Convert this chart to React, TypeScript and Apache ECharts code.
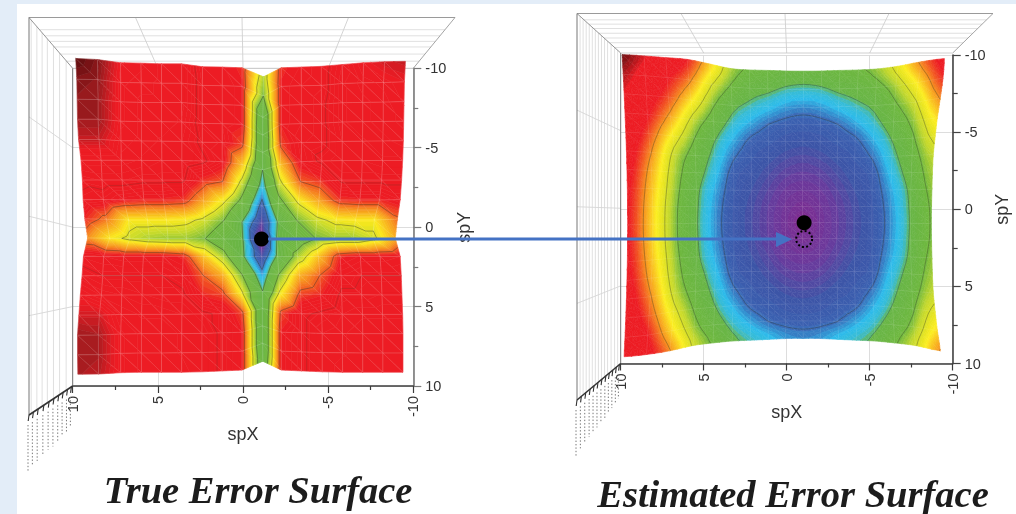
import React, { useEffect, useRef } from "react";
import * as echarts from "echarts";

// ---------- tick labels / axis titles ----------
const xName = "spX";
const yName = "spY";
const titleLeft = "True Error Surface";
const titleRight = "Estimated Error Surface";

// ---------- surface node positions ----------
const trueX = [10, 8.75, 7.5, 6.25, 5, 3.75, 2.5, 1.25, 0, -1.45, -2.5, -3.75, -5, -6.25, -7.5, -8.75, -10];
const estX = [10, 8.75, 7.5, 6.25, 5, 3.75, 2.5, 1.25, 0, -1.25, -2.5, -3.75, -5, -6.25, -7.5, -8.75, -10];
const gridY = [-10, -8.75, -7.5, -6.25, -5, -3.75, -2.5, -1.25, 0, 1.25, 2.5, 3.75, 5, 6.25, 7.5, 8.75, 10];

// ---------- error level at each node (rows: spY -10 .. 10, columns: spX 10 .. -10) ----------
const trueZ = [
  [9.5, 9.2, 8.3, 8.2, 8.0, 8.0, 7.2, 7.1, 6.9, 4.4, 6.9, 7.1, 7.3, 7.8, 8.3, 8.6, 8.7],
  [9.2, 9.1, 8.2, 8.1, 8.0, 8.0, 7.3, 7.2, 7.0, 4.0, 7.0, 7.2, 7.3, 7.9, 8.1, 8.2, 8.4],
  [9.1, 9.0, 8.2, 8.0, 8.0, 8.0, 7.3, 7.2, 7.0, 2.8, 7.0, 7.2, 7.4, 7.9, 8.0, 8.1, 8.3],
  [9.0, 9.0, 8.2, 8.0, 8.0, 7.9, 7.3, 7.2, 7.0, 2.7, 7.0, 7.2, 7.4, 7.9, 8.0, 8.1, 8.2],
  [8.7, 8.7, 8.1, 8.0, 7.9, 7.8, 7.4, 7.3, 6.7, 2.7, 6.7, 7.3, 7.4, 7.8, 7.9, 8.0, 8.1],
  [8.0, 8.0, 8.0, 7.9, 7.8, 7.8, 7.6, 7.2, 5.6, 2.5, 5.6, 7.2, 7.6, 7.8, 7.8, 7.9, 7.9],
  [7.6, 7.7, 7.7, 7.6, 7.6, 7.6, 6.8, 6.5, 4.6, 2.0, 4.6, 6.5, 6.8, 7.6, 7.6, 7.6, 7.6],
  [7.4, 7.3, 7.0, 6.9, 6.9, 6.8, 5.9, 5.0, 3.6, 1.2, 3.6, 5.0, 5.9, 6.8, 6.9, 6.9, 7.2],
  [6.9, 6.3, 5.2, 5.2, 5.2, 5.1, 4.7, 4.0, 2.5, 0.6, 2.5, 4.0, 4.7, 5.1, 5.2, 5.2, 6.4],
  [6.1, 5.2, 4.7, 4.4, 4.3, 4.3, 4.0, 3.3, 2.6, 0.0, 2.6, 3.3, 4.0, 4.3, 4.3, 4.7, 5.8],
  [7.3, 7.2, 7.1, 7.1, 7.1, 6.9, 5.6, 4.4, 2.7, 0.8, 2.7, 4.4, 5.6, 6.9, 7.1, 7.1, 7.2],
  [7.7, 7.5, 7.5, 7.5, 7.5, 7.3, 6.5, 5.8, 4.0, 1.7, 4.0, 5.8, 6.5, 7.3, 7.5, 7.5, 7.5],
  [8.2, 7.9, 7.8, 7.7, 7.6, 7.6, 6.9, 6.7, 5.0, 2.5, 5.0, 6.7, 6.9, 7.6, 7.6, 7.7, 7.7],
  [8.6, 8.6, 8.0, 7.9, 7.9, 7.8, 7.6, 7.4, 6.7, 2.7, 6.7, 7.4, 7.6, 7.8, 7.9, 7.9, 7.9],
  [9.0, 8.9, 8.2, 8.0, 8.0, 7.9, 7.8, 7.4, 7.0, 2.7, 7.0, 7.4, 7.8, 7.9, 8.0, 8.0, 8.0],
  [9.0, 8.9, 8.2, 8.0, 8.0, 7.9, 7.8, 7.4, 7.0, 2.7, 7.0, 7.4, 7.8, 7.9, 8.0, 8.0, 8.0],
  [8.9, 8.8, 8.2, 8.0, 8.0, 8.0, 7.8, 7.4, 7.0, 3.0, 7.0, 7.4, 7.8, 8.0, 8.0, 8.0, 8.0],
];

const estZ = [
  [8.68, 8.2, 7.6, 7.0, 5.4, 3.8, 3.3, 3.15, 2.95, 2.89, 2.95, 3.15, 3.3, 3.66, 4.6, 6.17, 7.27],
  [8.39, 7.8, 7.1, 6.2, 4.35, 3.3, 2.8, 2.64, 2.41, 2.32, 2.41, 2.64, 2.8, 3.13, 3.8, 5.1, 6.86],
  [8.11, 7.4, 6.6, 5.1, 3.55, 2.7, 2.35, 2.07, 1.78, 1.68, 1.78, 2.07, 2.35, 2.65, 3.3, 4.2, 6.05],
  [7.86, 7.1, 5.8, 4.0, 3.0, 2.3, 1.85, 1.5, 1.36, 1.31, 1.36, 1.5, 1.85, 2.3, 2.9, 3.66, 5.2],
  [7.63, 6.6, 4.8, 3.4, 2.55, 1.9, 1.4, 1.26, 1.1, 1.04, 1.1, 1.26, 1.4, 1.9, 2.55, 3.3, 4.55],
  [7.43, 6.08, 4.0, 3.05, 2.3, 1.55, 1.23, 1.04, 0.86, 0.79, 0.86, 1.04, 1.23, 1.55, 2.3, 3.05, 4.0],
  [7.28, 5.69, 3.75, 2.85, 2.07, 1.3, 1.08, 0.85, 0.64, 0.56, 0.64, 0.85, 1.08, 1.3, 2.07, 2.85, 3.75],
  [7.16, 5.45, 3.6, 2.65, 1.85, 1.22, 0.96, 0.7, 0.45, 0.36, 0.45, 0.7, 0.96, 1.22, 1.85, 2.65, 3.6],
  [7.1, 5.28, 3.48, 2.58, 1.74, 1.17, 0.88, 0.59, 0.33, 0.18, 0.33, 0.59, 0.88, 1.17, 1.74, 2.58, 3.48],
  [7.07, 5.23, 3.45, 2.55, 1.7, 1.15, 0.85, 0.56, 0.27, 0, 0.27, 0.56, 0.85, 1.15, 1.7, 2.55, 3.45],
  [7.1, 5.28, 3.48, 2.58, 1.74, 1.17, 0.88, 0.59, 0.33, 0.18, 0.33, 0.59, 0.88, 1.17, 1.74, 2.58, 3.48],
  [7.16, 5.45, 3.6, 2.65, 1.85, 1.22, 0.96, 0.7, 0.45, 0.36, 0.45, 0.7, 0.96, 1.22, 1.85, 2.65, 3.6],
  [7.28, 5.69, 3.75, 2.85, 2.07, 1.3, 1.08, 0.85, 0.64, 0.56, 0.64, 0.85, 1.08, 1.3, 2.07, 2.85, 3.75],
  [7.43, 6.08, 4.0, 3.05, 2.3, 1.55, 1.23, 1.04, 0.86, 0.79, 0.86, 1.04, 1.23, 1.55, 2.3, 3.05, 4.0],
  [7.63, 6.51, 4.55, 3.3, 2.55, 1.9, 1.4, 1.26, 1.1, 1.04, 1.1, 1.26, 1.4, 1.9, 2.55, 3.3, 4.55],
  [7.86, 7.02, 5.2, 3.66, 2.9, 2.3, 1.85, 1.5, 1.36, 1.31, 1.36, 1.5, 1.85, 2.3, 2.9, 3.66, 5.2],
  [8.11, 7.33, 6.05, 4.2, 3.3, 2.65, 2.35, 2.07, 1.78, 1.68, 1.78, 2.07, 2.35, 2.65, 3.3, 4.2, 6.05],
];

// ---------- marked points ----------
const truePoint = [[-1.085, 0.75]];
const estPoint = [[-1.05, 0.88]];
const estTruePoint = [[-1.05, 1.93]];

// ---------- colour maps: level -> colour ----------
const baseStops: [number, string][] = [
  [0, "#7e2b90"], [0.5, "#6a3a9c"], [1, "#3c54a6"], [1.45, "#3b62b2"], [2, "#2cbdec"], [2.3, "#38bbd2"], [2.55, "#68b546"],
];
const trueStops: [number, string][] = [
  ...baseStops, [4.0, "#72b83f"], [4.6, "#c4d92d"], [5.2, "#fbe91c"], [6.1, "#f7941e"], [7, "#ed1c24"], [8.4, "#ed1c24"], [9.0, "#a01c1f"], [9.5, "#5e0c0e"],
];
const estStops: [number, string][] = [
  ...baseStops, [3.4, "#6fb83f"], [3.95, "#c2d82e"], [4.6, "#e8e520"], [5, "#fcee21"], [6, "#f7941e"], [7, "#ed1c24"], [8.1, "#ed1c24"], [8.7, "#6e1012"],
];
const trueLevels = [1.5, 2.5, 4.0, 4.9, 6.5];
const trueFaintLevels = [7.5];
const estLevels = [1.5, 2.5, 3.4, 4.3, 6.0];

type V = { off: [number, number]; ax: number; bx: number; ay: number; by: number; cyz: number };
const trueView: V = { off: [-1, -3.5], ax: 133, bx: 3.5, ay: 131, by: 2.9, cyz: -0.7 };
const estView: V = { off: [-1, -2.8], ax: 134, bx: 3.4, ay: 127, by: 2.87, cyz: 0 };

const hex = (h: string) => [1, 3, 5].map((i) => parseInt(h.slice(i, i + 2), 16));
function colorAt(stops: [number, string][], z: number) {
  if (z <= stops[0][0]) return stops[0][1];
  for (let i = 1; i < stops.length; i++) {
    if (z <= stops[i][0]) {
      const t = (z - stops[i - 1][0]) / (stops[i][0] - stops[i - 1][0]);
      const a = hex(stops[i - 1][1]);
      const b = hex(stops[i][1]);
      return `rgb(${a.map((v, k) => Math.round(v + (b[k] - v) * t)).join(",")})`;
    }
  }
  return stops[stops.length - 1][1];
}

function cells(xs: number[], ys: number[], zz: number[][]) {
  const out: number[][] = [];
  for (let j = 0; j < ys.length - 1; j++)
    for (let i = 0; i < xs.length - 1; i++)
      out.push([xs[i], ys[j], xs[i + 1], ys[j + 1], zz[j][i], zz[j][i + 1], zz[j + 1][i], zz[j + 1][i + 1], i, j]);
  return out;
}

// Catmull-Rom shading between the read nodes of a smooth surface
function cr(p0: number, p1: number, p2: number, p3: number, t: number) {
  return 0.5 * (2 * p1 + (p2 - p0) * t + (2 * p0 - 5 * p1 + 4 * p2 - p3) * t * t + (3 * p1 - p0 - 3 * p2 + p3) * t * t * t);
}
function shade(zz: number[][], i: number, j: number, u: number, w: number) {
  const n = zz.length - 1;
  const m = zz[0].length - 1;
  const at = (r: number, c: number) => zz[Math.max(0, Math.min(n, r))][Math.max(0, Math.min(m, c))];
  const row = (r: number) => cr(at(r, i - 1), at(r, i), at(r, i + 1), at(r, i + 2), u);
  return Math.max(0, cr(row(j - 1), row(j), row(j + 1), row(j + 2), w));
}

type P = [number, number, number];
function triangles(api: any, v: V, zz?: number[][], sub = 3): P[][] {
  const c = api.coord([0, 0]);
  const hx = Math.abs(api.coord([10, 0])[0] - c[0]);
  const hy = Math.abs(api.coord([0, 10])[1] - c[1]);
  const pr = (X: number, Y: number, z: number): P => {
    const p = api.coord([X, Y]);
    return [
      c[0] + v.off[0] + ((p[0] - c[0]) / hx) * (v.ax + v.bx * z),
      c[1] + v.off[1] + v.cyz * z + ((p[1] - c[1]) / hy) * (v.ay + v.by * z),
      z,
    ];
  };
  const x0 = api.value(0), y0 = api.value(1), x1 = api.value(2), y1 = api.value(3);
  if (!zz) {
    const a = pr(x0, y0, api.value(4));
    const b = pr(x1, y0, api.value(5));
    const cc = pr(x0, y1, api.value(6));
    const d = pr(x1, y1, api.value(7));
    return [[a, b, d], [a, d, cc]];
  }
  const i = api.value(8), j = api.value(9);
  const q = (a: number, b: number) => {
    const u = a / sub, w = b / sub;
    return pr(x0 + (x1 - x0) * u, y0 + (y1 - y0) * w, shade(zz, i, j, u, w));
  };
  const out: P[][] = [];
  for (let b = 0; b < sub; b++)
    for (let a = 0; a < sub; a++) {
      const p00 = q(a, b), p10 = q(a + 1, b), p01 = q(a, b + 1), p11 = q(a + 1, b + 1);
      out.push([p00, p10, p11], [p00, p11, p01]);
    }
  return out;
}

function clip(poly: P[], lvl: number, keepAbove: boolean): P[] {
  const out: P[] = [];
  for (let i = 0; i < poly.length; i++) {
    const p = poly[i];
    const q = poly[(i + 1) % poly.length];
    const pIn = keepAbove ? p[2] >= lvl : p[2] <= lvl;
    const qIn = keepAbove ? q[2] >= lvl : q[2] <= lvl;
    if (pIn) out.push(p);
    if (pIn !== qIn) {
      const t = (lvl - p[2]) / (q[2] - p[2]);
      out.push([p[0] + (q[0] - p[0]) * t, p[1] + (q[1] - p[1]) * t, lvl]);
    }
  }
  return out;
}

const BAND = 0.12;
function surfaceSeries(name: string, gi: number, data: number[][], v: V, stops: [number, string][], zz?: number[][]) {
  return {
    type: "custom", name, xAxisIndex: gi, yAxisIndex: gi, z: 2, silent: true, data,
    renderItem: (_: any, api: any) => {
      const children: any[] = [];
      for (const tri of triangles(api, v, zz)) {
        const zs = tri.map((p) => p[2]);
        const lo = Math.floor(Math.min(...zs) / BAND);
        const hi = Math.ceil(Math.max(...zs) / BAND);
        for (let b = lo; b < Math.max(hi, lo + 1); b++) {
          const piece = clip(clip(tri, b * BAND, true), (b + 1) * BAND, false);
          if (piece.length < 3) continue;
          const col = colorAt(stops, (b + 0.5) * BAND);
          children.push({
            type: "polygon",
            shape: { points: piece.map((p) => [p[0], p[1]]) },
            style: { fill: col, stroke: col, lineWidth: 0.6 },
            silent: true,
          });
        }
      }
      return { type: "group", children };
    },
  };
}

function meshSeries(name: string, gi: number, data: number[][], v: V, alpha: number) {
  return {
    type: "custom", name, xAxisIndex: gi, yAxisIndex: gi, z: 3, silent: true, data,
    renderItem: (_: any, api: any) => {
      const [t1, t2] = triangles(api, v);
      const seg = (p: P, q: P) => ({
        type: "line", silent: true,
        shape: { x1: p[0], y1: p[1], x2: q[0], y2: q[1] },
        style: { stroke: `rgba(255,255,255,${alpha})`, lineWidth: 0.7 },
      });
      return { type: "group", children: [seg(t1[0], t1[1]), seg(t1[1], t1[2]), seg(t1[0], t1[2]), seg(t2[1], t2[2]), seg(t2[2], t2[0])] };
    },
  };
}

function contourSeries(name: string, gi: number, data: number[][], v: V, levels: number[], alpha: number, zz?: number[][]) {
  return {
    type: "custom", name, xAxisIndex: gi, yAxisIndex: gi, z: 4, silent: true, data,
    renderItem: (_: any, api: any) => {
      const children: any[] = [];
      for (const tri of triangles(api, v, zz)) {
        for (const l of levels) {
          const pts: number[][] = [];
          for (let i = 0; i < 3; i++) {
            const p = tri[i];
            const q = tri[(i + 1) % 3];
            if ((p[2] < l) !== (q[2] < l)) {
              const t = (l - p[2]) / (q[2] - p[2]);
              pts.push([p[0] + (q[0] - p[0]) * t, p[1] + (q[1] - p[1]) * t]);
            }
          }
          if (pts.length === 2)
            children.push({
              type: "line", silent: true,
              shape: { x1: pts[0][0], y1: pts[0][1], x2: pts[1][0], y2: pts[1][1] },
              style: { stroke: `rgba(45,55,35,${alpha})`, lineWidth: 0.65 },
            });
        }
      }
      return { type: "group", children };
    },
  };
}

const lerp = (a: number, b: number, t: number) => a + (b - a) * t;
const ln = (x1: number, y1: number, x2: number, y2: number, stroke: string, lineWidth = 0.7, lineDash?: number[]) => ({
  type: "line", silent: true, z: 1,
  shape: { x1, y1, x2, y2 },
  style: { stroke, lineWidth, lineDash },
});

type Box = { ox0: number; ox1: number; oy: number; ix0: number; ix1: number; iy0: number; iy1: number; ozb: number; topT: number[]; wallT: number[]; tickT: number[]; labelLen: number[] };
function boxElems(b: Box) {
  const e: any[] = [];
  for (const t of b.topT) {
    const y = lerp(b.oy, b.iy0, t);
    e.push(ln(lerp(b.ox0, b.ix0, t), y, lerp(b.ox1, b.ix1, t), y, "#d2d2d2"));
  }
  for (const t of b.wallT) {
    const x = lerp(b.ox0, b.ix0, t);
    e.push(ln(x, lerp(b.oy, b.iy0, t), x, lerp(b.ozb, b.iy1, t), "#d2d2d2"));
  }
  for (const f of [0.25, 0.5, 0.75]) {
    e.push(ln(lerp(b.ox0, b.ox1, f), b.oy, lerp(b.ix0, b.ix1, f), b.iy0, "#cfcfcf", 0.9));
    e.push(ln(b.ox0, lerp(b.oy, b.ozb, f), b.ix0, lerp(b.iy0, b.iy1, f), "#d6d6d6", 0.9));
  }
  e.push(ln(b.ox0, b.oy, b.ox1, b.oy, "#9a9a9a", 1));
  e.push(ln(b.ox0, b.oy, b.ix0, b.iy0, "#8a8a8a", 0.9));
  e.push(ln(b.ox1, b.oy, b.ix1, b.iy0, "#9a9a9a", 0.9));
  e.push(ln(b.ox0, b.oy, b.ox0, b.ozb, "#777777", 1));
  e.push(ln(b.ix0, b.iy0, b.ix1, b.iy0, "#c4c4c4", 0.8));
  e.push(ln(b.ix0, b.iy0, b.ix0, b.iy1, "#777777", 1));
  e.push(ln(b.ix0, b.iy1, b.ox0, b.ozb, "#333333", 1.6));
  b.tickT.forEach((t, k) => {
    const x = lerp(b.ix0, b.ox0, t);
    const y = lerp(b.iy1, b.ozb, t);
    e.push(ln(x, y, x - 0.8, y + 6, "#333333", 1.1));
    e.push(ln(x - 1, y + 10, x - 1, y + 10 + b.labelLen[k], "#777777", 1, [1.4, 2]));
  });
  return e;
}

const boxLeft: Box = {
  ox0: 29, ox1: 455, oy: 17.5, ix0: 72.7, ix1: 413.3, iy0: 68.3, iy1: 386, ozb: 415,
  topT: [0.24, 0.36, 0.47, 0.58, 0.72, 0.86],
  wallT: [0.05, 0.18, 0.3, 0.42, 0.56, 0.7, 0.85],
  tickT: [0.03, 0.12, 0.22, 0.32, 0.43, 0.54, 0.66, 0.79, 0.9, 1],
  labelLen: [30, 33, 34, 36, 38, 38, 40, 42, 44, 46],
};
const boxRight: Box = {
  ox0: 577, ox1: 993, oy: 13.5, ix0: 620.7, ix1: 952.7, iy0: 53, iy1: 363.5, ozb: 400,
  topT: [0.16, 0.27, 0.38, 0.5, 0.62, 0.74, 0.86],
  wallT: [0.07, 0.14, 0.21, 0.28, 0.35, 0.42, 0.49, 0.56, 0.63, 0.7, 0.78, 0.86, 0.93],
  tickT: [0.03, 0.1, 0.18, 0.26, 0.34, 0.43, 0.52, 0.61, 0.7, 0.8, 0.9, 1],
  labelLen: [24, 26, 28, 30, 32, 33, 35, 37, 38, 40, 42, 46],
};

const font = '"Liberation Sans", Arial, sans-serif';
function xAx(gi: number, gap: number) {
  return {
    gridIndex: gi, type: "value", inverse: true, min: -10, max: 10, interval: 5, position: "bottom",
    name: xName, nameLocation: "middle", nameGap: gap,
    nameTextStyle: { fontFamily: font, fontSize: 18, color: "#333" },
    axisLine: { show: true, onZero: false, lineStyle: { color: "#3c3c3c", width: 1.5 } },
    axisTick: { show: true, length: 7, inside: false, lineStyle: { color: "#3c3c3c", width: 1.2 } },
    minorTick: { show: true, splitNumber: 2, length: 4, lineStyle: { color: "#3c3c3c", width: 1.2 } },
    axisLabel: { rotate: 90, margin: 10, fontFamily: font, fontSize: 14.5, color: "#333", showMinLabel: true, showMaxLabel: true },
    splitLine: { show: true, lineStyle: { color: "#d9d9d9", width: 0.9 } },
  };
}
function yAx(gi: number, gap: number, col: string) {
  return {
    gridIndex: gi, type: "value", inverse: true, min: -10, max: 10, interval: 5, position: "right",
    name: yName, nameLocation: "middle", nameGap: gap, nameRotate: 90,
    nameTextStyle: { fontFamily: font, fontSize: 18, color: "#333" },
    axisLine: { show: true, onZero: false, lineStyle: { color: col, width: 1.6 } },
    axisTick: { show: true, length: 8, lineStyle: { color: col, width: 1.2 } },
    minorTick: { show: true, splitNumber: 2, length: 5, lineStyle: { color: col, width: 1.2 } },
    axisLabel: { margin: 12, fontFamily: font, fontSize: 14.5, color: "#333" },
    splitLine: { show: true, lineStyle: { color: "#d9d9d9", width: 0.9 } },
  };
}

function dotSeries(gi: number, data: number[][], size: number) {
  return { type: "scatter", xAxisIndex: gi, yAxisIndex: gi, z: 6, symbol: "circle", symbolSize: size, silent: true, data, itemStyle: { color: "#000", opacity: 1 } };
}

export default function App() {
  const ref = useRef<HTMLDivElement>(null);
  useEffect(() => {
    const chart = echarts.init(ref.current!, null, { renderer: "svg" });
    const trueCells = cells(trueX, gridY, trueZ);
    const estCells = cells(estX, gridY, estZ);
    chart.setOption({
      animation: false,
      backgroundColor: "#e3edf8",
      grid: [
        { left: 72.7, top: 68.3, width: 340.6, height: 317.7, containLabel: false },
        { left: 620.7, top: 55, width: 332, height: 308.5, containLabel: false },
      ],
      xAxis: [xAx(0, 37), xAx(1, 39)],
      yAxis: [yAx(0, 42, "#7a7a7a"), yAx(1, 40, "#444444")],
      series: [
        surfaceSeries("True surface", 0, trueCells, trueView, trueStops),
        meshSeries("True mesh", 0, trueCells, trueView, 0.14),
        contourSeries("True contours", 0, trueCells, trueView, trueLevels, 0.62),
        contourSeries("True upper contours", 0, trueCells, trueView, trueFaintLevels, 0.3),
        surfaceSeries("Estimated surface", 1, estCells, estView, estStops, estZ),
        meshSeries("Estimated mesh", 1, estCells, estView, 0.08),
        contourSeries("Estimated contours", 1, estCells, estView, estLevels, 0.55, estZ),
        dotSeries(0, truePoint, 15),
        dotSeries(1, estPoint, 15),
        {
          type: "scatter", xAxisIndex: 1, yAxisIndex: 1, z: 6, symbol: "circle", symbolSize: 16, silent: true, data: estTruePoint,
          itemStyle: { color: "transparent", borderColor: "#000", borderWidth: 2, borderType: [2, 2.2], opacity: 1 },
        },
      ],
      graphic: [
        { type: "rect", silent: true, z: -5, shape: { x: 17, y: 4, width: 999, height: 510 }, style: { fill: "#ffffff" } },
        ...boxElems(boxLeft),
        ...boxElems(boxRight),
        { type: "line", silent: true, z: 10, shape: { x1: 268, y1: 239, x2: 780, y2: 239 }, style: { stroke: "#4472c4", lineWidth: 3 } },
        { type: "polygon", silent: true, z: 10, shape: { points: [[776, 232], [792, 239.2], [776, 247]] }, style: { fill: "#4472c4" } },
        {
          type: "text", silent: true, z: 10, x: 258, y: 490,
          style: { text: titleLeft, font: 'italic bold 38.5px "Liberation Serif", serif', fill: "#1c1c1c", textAlign: "center", textVerticalAlign: "middle" },
        },
        {
          type: "text", silent: true, z: 10, x: 793, y: 494,
          style: { text: titleRight, font: 'italic bold 38.5px "Liberation Serif", serif', fill: "#1c1c1c", textAlign: "center", textVerticalAlign: "middle" },
        },
      ],
    });
    return () => chart.dispose();
  }, []);
  return <div ref={ref} style={{ position: "absolute", left: 0, top: 0, width: 1016, height: 514, filter: "blur(0.35px)" }} />;
}
